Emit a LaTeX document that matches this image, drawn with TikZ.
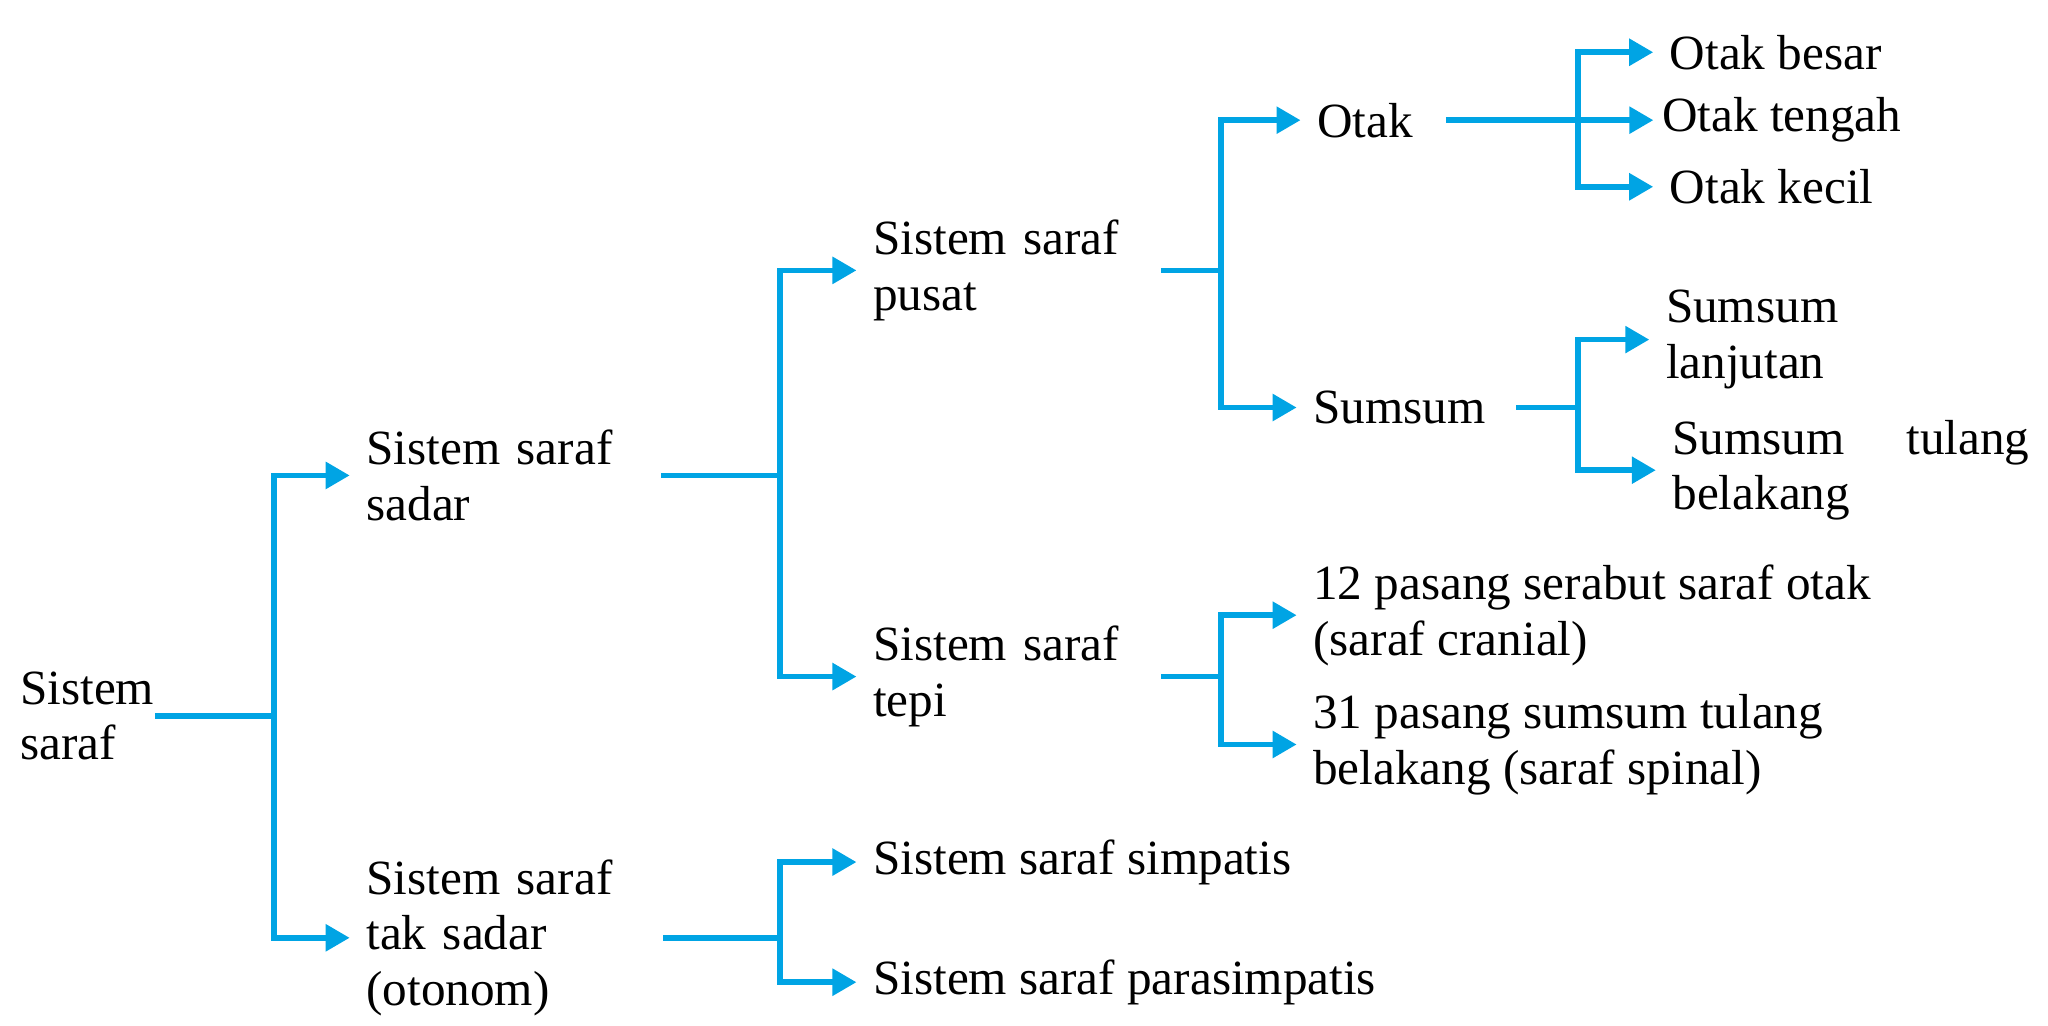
\documentclass[tikz,border=0pt]{standalone}
\usepackage{fontspec}
\setmainfont{Liberation Serif}
\usepackage{xcolor}
\usetikzlibrary{arrows.meta}
\definecolor{nerveblue}{RGB}{0,164,228}

\begin{document}
\begin{tikzpicture}[x=0.01306cm,y=-0.01306cm,>={Triangle[length=2.4mm,width=2.6mm]},
  every node/.style={inner sep=0pt,anchor=west,align=left,font=\fontsize{14pt}{15.8pt}\selectfont},
  link/.style={nerveblue,line width=1.6pt},
  branch/.style={link,->,shorten >=0.16cm}]
\useasboundingbox (0,0) rectangle (1568,785);
\coordinate (j1) at (210,0);
\coordinate (j2) at (597,0);
\coordinate (j3) at (935,0);
\coordinate (j4) at (1208,0);
\node (root) at (15,548) {Sistem\\saraf};
\node (sadar) [text width=2.94cm] at (280,364) {Sistem saraf\\sadar};
\node (taksadar) [text width=2.96cm] at (280,718) {Sistem saraf\\tak sadar\\(otonom)};
\node (pusat) [text width=2.87cm] at (668,207) {Sistem saraf\\pusat};
\node (tepi) [text width=2.87cm] at (668,518) {Sistem saraf\\tepi};
\node (simpatis) at (668,660) {Sistem saraf simpatis};
\node (parasimpatis) at (668,752) {Sistem saraf parasimpatis};
\node (otak) [text width=1.28cm] at (1008,92) {Otak};
\node (sumsum) [text width=2.02cm] at (1005,312) {Sumsum};
\node (cranial) at (1005,471) {12 pasang serabut saraf otak\\(saraf cranial)};
\node (spinal) at (1005,570) {31 pasang sumsum tulang\\belakang (saraf spinal)};
\node (besar) at (1278,40) {Otak besar};
\node (tengah) at (1272,92) {Otak tengah};
\node (kecil) at (1278,143) {Otak kecil};
\node (lanjutan) at (1275,260) {Sumsum\\lanjutan};
\node (tulang) [text width=3.57cm] at (1280,360) {Sumsum\hfill tulang\\belakang};
% forks
\draw[link] (root.east) -- (root.east -| j1);
\foreach \c in {sadar,taksadar} \draw[branch] (root.east -| j1) |- (\c.west);
\draw[link] (sadar.east) -- (sadar.east -| j2);
\foreach \c in {pusat,tepi} \draw[branch] (sadar.east -| j2) |- (\c.west);
\draw[link] (taksadar.east) -- (taksadar.east -| j2);
\foreach \c in {simpatis,parasimpatis} \draw[branch] (taksadar.east -| j2) |- (\c.west);
\draw[link] (pusat.east) -- (pusat.east -| j3);
\foreach \c in {otak,sumsum} \draw[branch] (pusat.east -| j3) |- (\c.west);
\draw[link] (tepi.east) -- (tepi.east -| j3);
\foreach \c in {cranial,spinal} \draw[branch] (tepi.east -| j3) |- (\c.west);
\draw[link] (otak.east) -- (otak.east -| j4);
\foreach \c in {besar,kecil} \draw[branch] (otak.east -| j4) |- (\c.west);
\draw[branch,shorten >=0.08cm] (otak.east -| j4) -- (tengah.west);
\draw[link] (sumsum.east) -- (sumsum.east -| j4);
\foreach \c in {lanjutan,tulang} \draw[branch] (sumsum.east -| j4) |- (\c.west);
\end{tikzpicture}
\end{document}
